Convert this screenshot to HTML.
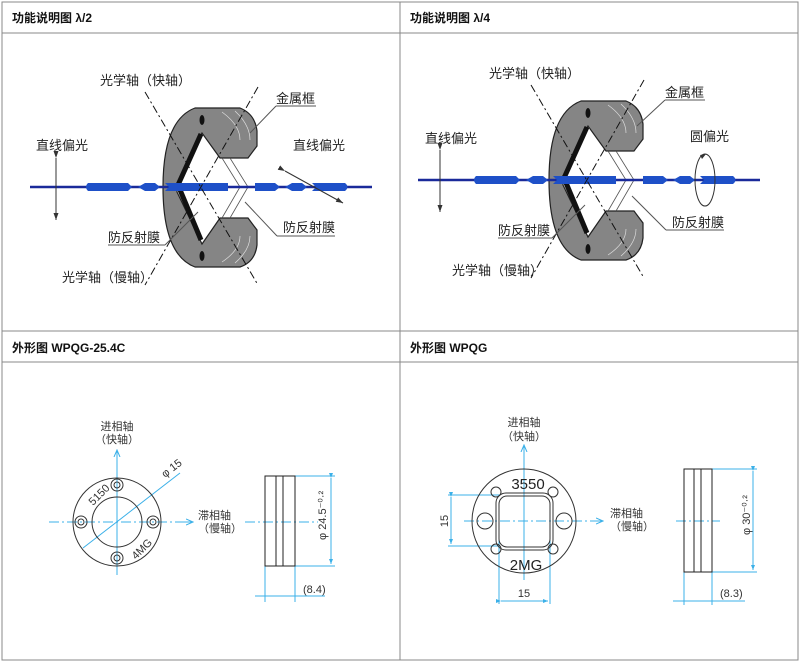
<!DOCTYPE html>
<html><head><meta charset="utf-8"><style>
body{margin:0;background:#fff;}
svg{display:block;font-family:"Liberation Sans","Noto Sans CJK SC",sans-serif;}
.h{font-size:12px;font-weight:bold;fill:#111;}
.l{font-size:13px;fill:#222;}
.s{font-size:11px;fill:#333;}
</style></head><body>
<svg width="800" height="664" viewBox="0 0 800 664" xmlns="http://www.w3.org/2000/svg">
<defs>
<marker id="ab" markerWidth="8" markerHeight="8" refX="7" refY="4" orient="auto" markerUnits="userSpaceOnUse"><path d="M0,1 L7,4 L0,7" fill="none" stroke="#3bb0e8" stroke-width="1"/></marker>
<marker id="ak" markerWidth="8" markerHeight="8" refX="7" refY="4" orient="auto" markerUnits="userSpaceOnUse"><path d="M0,1.5 L7,4 L0,6.5z" fill="#333"/></marker>
<marker id="as" markerWidth="6" markerHeight="6" refX="5" refY="3" orient="auto" markerUnits="userSpaceOnUse"><path d="M0,1 L5,3 L0,5z" fill="#3bb0e8"/></marker>
<g id="ring">
<path d="M195,108 L240,108 Q255,114 257,131 L257,146 L248,158 L220,158 L202,133 L177,183 L177,192 L202,244 L220,218 L248,218 L257,230 L257,245 Q255,262 240,267 L195,267 Q163,255 163,187 Q163,120 195,108Z" fill="#858585" stroke="#222" stroke-width="1.2"/>
<path d="M201,134 L178,185 L201,240" fill="none" stroke="#111" stroke-width="5"/>
<path d="M222,112 Q240,125 240,140 M235,111 Q250,125 250,140 M222,262 Q240,250 240,236 M235,263 Q250,250 250,236" fill="none" stroke="#ddd" stroke-width="0.7"/>
<ellipse cx="202" cy="120" rx="2.5" ry="5" fill="#111"/><ellipse cx="202" cy="256" rx="2.5" ry="5" fill="#111"/>
<path d="M222,158 L240,187 L222,218 M230,158 L248,187 L230,218" fill="none" stroke="#555" stroke-width="0.8"/>
</g>
<g id="beam">
<line x1="0" y1="0" x2="342" y2="0" stroke="#1a2a9a" stroke-width="2.5"/>
<path d="M58,-4 L98,-4 L102,0 L98,4 L58,4 Q54,0 58,-4Z M108,0 L115,-4 L125,-4 L130,0 L125,4 L115,4Z M135,-4 L198,-4 L198,4 L135,4 L139,0Z M225,-4 L245,-4 L250,0 L245,4 L225,4Z M255,0 L262,-4 L272,-4 L277,0 L272,4 L262,4Z M282,-4 L315,-4 Q320,0 315,4 L282,4 L286,0Z" fill="#1e50c8"/>
</g>
</defs>
<rect x="2" y="2" width="796" height="658" fill="none" stroke="#888"/>
<line x1="400" y1="2" x2="400" y2="660" stroke="#888"/>
<line x1="2" y1="33" x2="798" y2="33" stroke="#888"/>
<line x1="2" y1="331" x2="798" y2="331" stroke="#888"/>
<line x1="2" y1="362" x2="798" y2="362" stroke="#888"/>
<text class="h" x="12" y="22">功能说明图 λ/2</text>
<text class="h" x="410" y="22">功能说明图 λ/4</text>
<text class="h" x="12" y="352">外形图 WPQG-25.4C</text>
<text class="h" x="410" y="352">外形图 WPQG</text>

<!-- top-left -->
<use href="#ring"/>
<use href="#beam" x="30" y="187"/>
<line x1="145" y1="92" x2="258" y2="285" stroke="#111" stroke-dasharray="8,3,2,3"/>
<line x1="258" y1="87" x2="145" y2="285" stroke="#111" stroke-dasharray="8,3,2,3"/>
<line x1="56" y1="158" x2="56" y2="220" stroke="#333" marker-end="url(#ak)" marker-start="url(#ak)"/>
<line x1="285" y1="171" x2="343" y2="203" stroke="#333" marker-end="url(#ak)" marker-start="url(#ak)"/>
<text class="l" x="100" y="85">光学轴（快轴）</text>
<text class="l" x="276" y="103">金属框</text>
<line x1="276" y1="106" x2="316" y2="106" stroke="#555"/><line x1="276" y1="106" x2="250" y2="133" stroke="#555"/>
<text class="l" x="36" y="150">直线偏光</text>
<text class="l" x="293" y="150">直线偏光</text>
<text class="l" x="108" y="242">防反射膜</text>
<line x1="108" y1="245" x2="165" y2="245" stroke="#555"/><line x1="165" y1="245" x2="198" y2="212" stroke="#555"/>
<text class="l" x="283" y="232">防反射膜</text>
<line x1="277" y1="236" x2="335" y2="236" stroke="#555"/><line x1="277" y1="236" x2="245" y2="202" stroke="#555"/>
<text class="l" x="62" y="282">光学轴（慢轴）</text>

<!-- top-right -->
<use href="#ring" transform="translate(386,-7)"/>
<use href="#beam" x="418" y="180"/>
<line x1="531" y1="85" x2="644" y2="278" stroke="#111" stroke-dasharray="8,3,2,3"/>
<line x1="644" y1="80" x2="531" y2="278" stroke="#111" stroke-dasharray="8,3,2,3"/>
<line x1="440" y1="150" x2="440" y2="212" stroke="#333" marker-end="url(#ak)" marker-start="url(#ak)"/>
<ellipse cx="705" cy="180" rx="10" ry="26" fill="none" stroke="#333"/>
<path d="M700,155 L706,154 L702,159z" fill="#333"/>
<text class="l" x="489" y="78">光学轴（快轴）</text>
<text class="l" x="665" y="97">金属框</text>
<line x1="665" y1="100" x2="705" y2="100" stroke="#555"/><line x1="665" y1="100" x2="637" y2="126" stroke="#555"/>
<text class="l" x="425" y="143">直线偏光</text>
<text class="l" x="690" y="141">圆偏光</text>
<text class="l" x="498" y="235">防反射膜</text>
<line x1="498" y1="238" x2="552" y2="238" stroke="#555"/><line x1="552" y1="238" x2="585" y2="205" stroke="#555"/>
<text class="l" x="672" y="227">防反射膜</text>
<line x1="666" y1="230" x2="724" y2="230" stroke="#555"/><line x1="666" y1="230" x2="632" y2="196" stroke="#555"/>
<text class="l" x="452" y="275">光学轴（慢轴）</text>

<!-- bottom-left -->
<g stroke="#3bb0e8" fill="none" stroke-width="1">
<line x1="117" y1="575" x2="117" y2="450" marker-end="url(#ab)"/>
<line x1="49" y1="522" x2="193" y2="522" stroke-dasharray="10,3,2,3"/>
<line x1="180" y1="522" x2="193" y2="522" marker-end="url(#ab)"/>
<line x1="83" y1="548" x2="180" y2="473"/>
<line x1="245" y1="522" x2="318" y2="522" stroke-dasharray="10,3,2,3"/>
<line x1="295" y1="476" x2="335" y2="476"/><line x1="295" y1="566" x2="335" y2="566"/>
<line x1="331" y1="478" x2="331" y2="564" marker-end="url(#as)" marker-start="url(#as)"/>
<line x1="265" y1="566" x2="265" y2="602"/><line x1="295" y1="566" x2="295" y2="602"/>
<line x1="255" y1="596" x2="325" y2="596"/>
</g>
<circle cx="117" cy="522" r="44" fill="none" stroke="#333"/>
<circle cx="117" cy="522" r="25" fill="none" stroke="#333"/>
<g fill="none" stroke="#333">
<circle cx="117" cy="485" r="6"/><circle cx="117" cy="558" r="6"/><circle cx="81" cy="522" r="6"/><circle cx="153" cy="522" r="6"/>
<circle cx="117" cy="485" r="3"/><circle cx="117" cy="558" r="3"/><circle cx="81" cy="522" r="3"/><circle cx="153" cy="522" r="3"/>
</g>
<text class="s" x="117" y="430" text-anchor="middle">进相轴</text>
<text class="s" x="117" y="443" text-anchor="middle">（快轴）</text>
<text class="s" x="198" y="519">滞相轴</text>
<text class="s" x="198" y="532">（慢轴）</text>
<text class="s" x="93" y="506" transform="rotate(-45 93 506)" font-size="12">5150</text>
<text class="s" x="136" y="560" transform="rotate(-45 136 560)" font-size="12">4MG</text>
<text class="s" x="165" y="478" transform="rotate(-38 165 478)" font-size="9">φ 15</text>
<rect x="265" y="476" width="30" height="90" fill="none" stroke="#222"/>
<line x1="276" y1="476" x2="276" y2="566" stroke="#222"/><line x1="283" y1="476" x2="283" y2="566" stroke="#222"/>
<text class="s" x="326" y="540" transform="rotate(-90 326 540)" font-size="10">φ 24.5⁻⁰·²</text>
<text class="s" x="303" y="593" font-size="10">(8.4)</text>

<!-- bottom-right -->
<g stroke="#3bb0e8" fill="none" stroke-width="1">
<line x1="524" y1="580" x2="524" y2="445" marker-end="url(#ab)"/>
<line x1="464" y1="521" x2="603" y2="521" stroke-dasharray="10,3,2,3"/>
<line x1="590" y1="521" x2="603" y2="521" marker-end="url(#ab)"/>
<line x1="676" y1="521" x2="720" y2="521" stroke-dasharray="10,3,2,3"/>
<line x1="448" y1="495" x2="500" y2="495"/><line x1="448" y1="546" x2="500" y2="546"/>
<line x1="451" y1="497" x2="451" y2="544" marker-end="url(#as)" marker-start="url(#as)"/>
<line x1="499" y1="540" x2="499" y2="604"/><line x1="550" y1="540" x2="550" y2="604"/>
<line x1="501" y1="601" x2="548" y2="601" marker-end="url(#as)" marker-start="url(#as)"/>
<line x1="712" y1="469" x2="757" y2="469"/><line x1="712" y1="572" x2="757" y2="572"/>
<line x1="753" y1="471" x2="753" y2="570" marker-end="url(#as)" marker-start="url(#as)"/>
<line x1="684" y1="572" x2="684" y2="605"/><line x1="712" y1="572" x2="712" y2="605"/>
<line x1="673" y1="601" x2="745" y2="601"/>
<circle cx="496" cy="492" r="5" stroke="#333"/><circle cx="553" cy="492" r="5" stroke="#333"/>
<circle cx="496" cy="549" r="5" stroke="#333"/><circle cx="553" cy="549" r="5" stroke="#333"/>
</g>
<circle cx="524" cy="521" r="52" fill="none" stroke="#333"/>
<rect x="496" y="493" width="57" height="57" rx="10" fill="none" stroke="#333"/>
<rect x="499" y="496" width="51" height="51" rx="8" fill="none" stroke="#333"/>
<circle cx="485" cy="521" r="8" fill="none" stroke="#333"/><circle cx="564" cy="521" r="8" fill="none" stroke="#333"/>
<text x="528" y="489" text-anchor="middle" font-size="15" fill="#222">3550</text>
<text x="526" y="570" text-anchor="middle" font-size="15" fill="#222">2MG</text>
<text class="s" x="524" y="426" text-anchor="middle">进相轴</text>
<text class="s" x="524" y="440" text-anchor="middle">（快轴）</text>
<text class="s" x="610" y="517">滞相轴</text>
<text class="s" x="610" y="530">（慢轴）</text>
<text class="s" x="448" y="521" transform="rotate(-90 448 521)" text-anchor="middle" font-size="10">15</text>
<text class="s" x="524" y="597" text-anchor="middle" font-size="10">15</text>
<rect x="684" y="469" width="28" height="103" fill="none" stroke="#222"/>
<line x1="694" y1="469" x2="694" y2="572" stroke="#222"/><line x1="701" y1="469" x2="701" y2="572" stroke="#222"/>
<text class="s" x="750" y="535" transform="rotate(-90 750 535)" font-size="10">φ 30⁻⁰·²</text>
<text class="s" x="720" y="597" font-size="10">(8.3)</text>
</svg>
</body></html>
